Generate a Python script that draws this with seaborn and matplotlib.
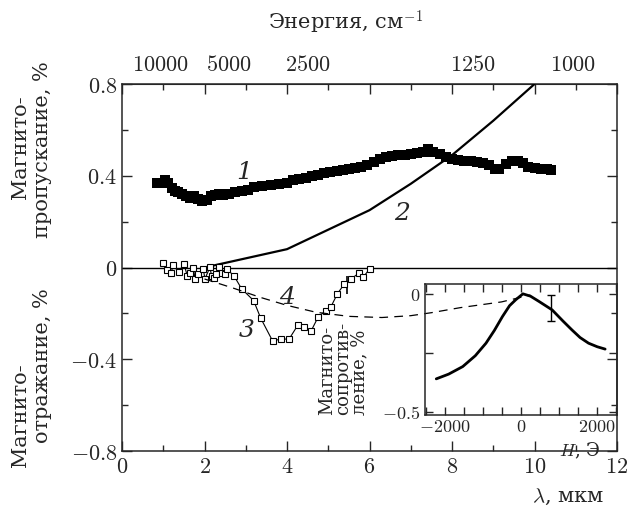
import numpy as np
import pandas as pd
import matplotlib
matplotlib.use("Agg")
import matplotlib.pyplot as plt
import seaborn as sns

sns.set_style("ticks")
plt.rcParams['font.family'] = ['DejaVu Serif']
plt.rcParams['mathtext.fontset'] = 'cm'

# --- data ---
# curve 1: magneto-transmission, filled squares
lam1 = [0.85, 0.95, 1.05, 1.12, 1.2, 1.28, 1.36, 1.45, 1.55, 1.65, 1.75, 1.85, 1.95,
        2.05, 2.15, 2.25, 2.35, 2.45, 2.6, 2.75, 2.9, 3.05, 3.2, 3.4, 3.6, 3.8, 4.0,
        4.15, 4.3, 4.45, 4.6, 4.75, 4.9, 5.05, 5.2, 5.35, 5.5, 5.65, 5.8, 5.95, 6.1,
        6.25, 6.4, 6.55, 6.7, 6.85, 7.0, 7.15, 7.3, 7.42, 7.55, 7.7, 7.85, 8.0, 8.15,
        8.3, 8.45, 8.6, 8.75, 8.9, 9.05, 9.15, 9.3, 9.45, 9.6, 9.72, 9.85, 10.0,
        10.15, 10.3, 10.4]
trans1 = [0.37, 0.37, 0.38, 0.37, 0.345, 0.335, 0.33, 0.32, 0.31, 0.305, 0.31, 0.30, 0.29,
          0.295, 0.31, 0.315, 0.32, 0.315, 0.32, 0.33, 0.335, 0.34, 0.35, 0.355, 0.36, 0.365,
          0.37, 0.38, 0.385, 0.39, 0.40, 0.405, 0.41, 0.415, 0.42, 0.425, 0.43, 0.435, 0.44,
          0.445, 0.46, 0.475, 0.48, 0.485, 0.49, 0.49, 0.495, 0.50, 0.505, 0.515, 0.505,
          0.495, 0.48, 0.475, 0.47, 0.465, 0.465, 0.46, 0.455, 0.445, 0.43, 0.43, 0.45,
          0.465, 0.465, 0.455, 0.44, 0.435, 0.43, 0.43, 0.425]

# curve 2: calculated transmission, solid line
lam2 = [2.0, 4.0, 6.0, 7.0, 8.0, 9.0, 10.0]
trans2 = [0.0, 0.08, 0.25, 0.365, 0.49, 0.64, 0.8]

# curve 3: magneto-reflection, open squares
lam3 = [0.99, 1.08, 1.19, 1.24, 1.37, 1.5, 1.58, 1.65, 1.73, 1.77, 1.83, 1.97, 2.01,
        2.13, 2.17, 2.24, 2.29, 2.36, 2.42, 2.5, 2.54, 2.72, 2.9, 3.19, 3.36, 3.65,
        3.85, 4.05, 4.27, 4.42, 4.58, 4.76, 4.95, 5.06, 5.22, 5.38, 5.54, 5.75, 5.85, 6.0]
refl3 = [0.02, -0.009, -0.025, 0.013, -0.02, 0.016, -0.035, -0.025, -0.001, -0.05,
         -0.028, -0.006, -0.05, 0.001, -0.035, -0.047, -0.028, 0.001, -0.025, -0.03,
         -0.006, -0.038, -0.093, -0.144, -0.22, -0.32, -0.312, -0.312, -0.249, -0.258,
         -0.278, -0.214, -0.188, -0.173, -0.115, -0.074, -0.052, -0.023, -0.042, -0.006]

# curve 4: calculated reflection, dashed
lam4 = [2.0, 2.7, 3.35, 4.0, 4.7, 5.5, 6.3, 7.0, 7.5, 8.2, 9.2, 9.9]
refl4 = [-0.05, -0.09, -0.13, -0.165, -0.195, -0.213, -0.218, -0.21, -0.197, -0.175, -0.15, -0.12]

# inset: magnetoresistance vs field
field = [-2225, -1900, -1530, -1200, -920, -700, -487, -300, -138, 50, 250, 470, 817,
         1100, 1338, 1550, 1773, 2000, 2208]
mres = [-0.36, -0.34, -0.308, -0.262, -0.209, -0.155, -0.096, -0.05, -0.025, 0.0,
        -0.01, -0.032, -0.068, -0.115, -0.153, -0.185, -0.209, -0.224, -0.234]

# top energy labels (placed as in the original figure)
top_pos = [0.92, 2.58, 4.51, 8.51, 10.93]
top_lab = ["10000", "5000", "2500", "1250", "1000"]

fig = plt.figure(figsize=(6.28, 5.08), dpi=100)
ax = fig.add_axes([0.1943, 0.1122, 0.7882, 0.7224])

sns.scatterplot(x=lam1, y=trans1, marker='s', s=42, color='black', edgecolor='black',
                linewidth=0, ax=ax, zorder=3)
sns.lineplot(x=lam2, y=trans2, color='black', lw=1.6, ax=ax, zorder=3)
sns.lineplot(x=lam3, y=refl3, color='black', lw=0.8, marker='s', markersize=4,
             markerfacecolor='white', markeredgecolor='black', markeredgewidth=0.8,
             ax=ax, zorder=3)
sns.lineplot(x=lam4, y=refl4, color='black', lw=0.9, ax=ax, zorder=4,
             linestyle=(0, (7, 5)))
ax.errorbar([5.45], [-0.075], yerr=[0.04], fmt='none', ecolor='black', lw=1.2, capsize=0)
ax.axhline(0, color='black', lw=1.0, zorder=2)

ax.set_xlim(0, 12)
ax.set_ylim(-0.8, 0.8)
ax.set_xticks([0, 2, 4, 6, 8, 10, 12])
ax.set_xticklabels([f"${v}$" for v in [0, 2, 4, 6, 8, 10, 12]])
ax.set_xticks([1, 3, 5, 7, 9, 11], minor=True)
ax.set_yticks([-0.8, -0.4, 0, 0.4, 0.8])
ax.set_yticklabels(["$-0.8$", "$-0.4$", "$0$", "$0.4$", "$0.8$"])
ax.set_yticks([-0.6, -0.2, 0.2, 0.6], minor=True)
ax.tick_params(which='both', direction='in', top=True, right=True, labelsize=16,
               width=1.0)
ax.tick_params(which='major', length=7)
ax.tick_params(which='minor', length=4)
for sp in ax.spines.values():
    sp.set_linewidth(1.1)

sec = ax.secondary_xaxis('top')
sec.set_xticks(top_pos)
sec.set_xticklabels([f"${t}$" for t in top_lab])
sec.tick_params(length=0, labelsize=16, pad=6)

ax.text(2.95, 0.415, "1", fontsize=18, style='italic', ha='center', va='center')
ax.text(6.8, 0.235, "2", fontsize=18, style='italic', ha='center', va='center')
ax.text(3.03, -0.275, "3", fontsize=18, style='italic', ha='center', va='center')
ax.text(4.0, -0.13, "4", fontsize=18, style='italic', ha='center', va='center')

fig.text(0.55, 0.955, "Энергия, см$^{-1}$", fontsize=15, ha='center', va='center')
fig.text(0.904, 0.022, "$\\lambda$, мкм", fontsize=15, ha='center', va='center')

# y labels, one text per line as in the original
fig.text(21 / 628, 1 - 147 / 508, "Магнито-", fontsize=15, rotation=90,
         ha='center', va='center')
fig.text(43 / 628, 1 - 150 / 508, "пропускание, %", fontsize=15, rotation=90,
         ha='center', va='center')
fig.text(21 / 628, 1 - 415 / 508, "Магнито-", fontsize=15, rotation=90,
         ha='center', va='center')
fig.text(43 / 628, 1 - 366 / 508, "отражание, %", fontsize=15, rotation=90,
         ha='center', va='center')

# inset
ins = fig.add_axes([0.6768, 0.1831, 0.3057, 0.258])
ins.patch.set_alpha(0)
sns.lineplot(x=field, y=mres, color='black', lw=2.0, ax=ins)
ins.errorbar([775], [-0.06], yerr=[0.053], fmt='none', ecolor='black', lw=1.0, capsize=3)
ins.set_xlim(-2520, 2520)
ins.set_ylim(-0.513, 0.042)
ins.set_xticks([-2000, 0, 2000])
ins.set_xticklabels(["$-2000$", "$0$", "$2000$"])
ins.set_xticks([-2500, -1500, -1000, -500, 500, 1000, 1500, 2500], minor=True)
ins.set_yticks([-0.5, 0])
ins.set_yticklabels(["$-0.5$", "$0$"])
ins.set_yticks([-0.25], minor=True)
ins.tick_params(which='both', direction='in', top=True, right=True, labelsize=13,
                width=1.0)
ins.tick_params(axis='x', pad=2)
ins.tick_params(which='major', length=6)
ins.tick_params(which='minor', length=6)
for sp in ins.spines.values():
    sp.set_linewidth(1.1)
ins.text(2086, -0.665, "$H$, Э", fontsize=13, ha='right', va='center')
fig.text(343 / 628, 0.183, "Магнито-\nсопротив-\nление, %", fontsize=13, rotation=90,
         ha='center', va='bottom', multialignment='left', linespacing=0.85)

fig.savefig("out.png", dpi=100)
